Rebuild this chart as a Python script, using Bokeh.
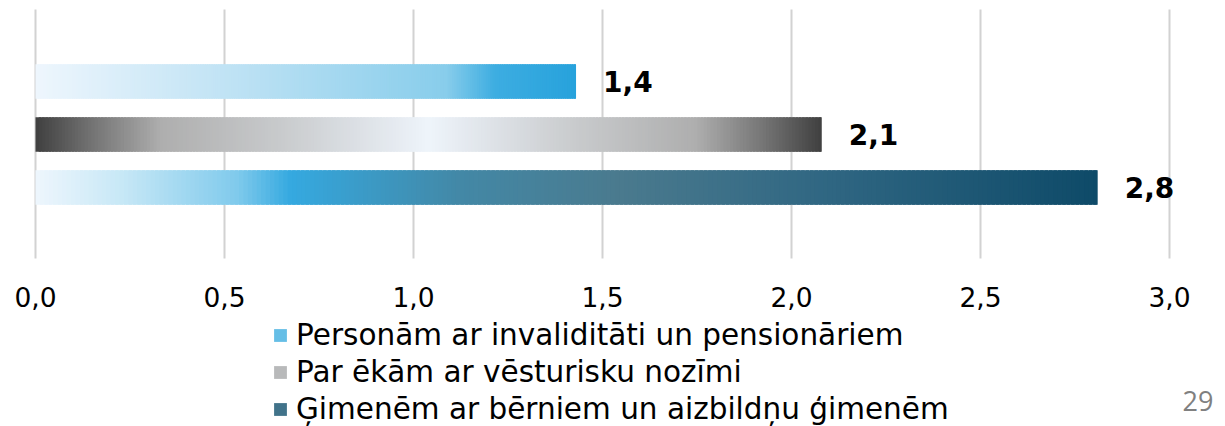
from bokeh.plotting import figure
from bokeh.models import Range1d, ColumnDataSource, Legend, LegendItem, Label
from bokeh.embed import file_html
from bokeh.resources import INLINE
from bokeh.core.properties import value

# ---------------- data ----------------
series = ["Personām ar invaliditāti un pensionāriem",
          "Par ēkām ar vēsturisku nozīmi",
          "Ģimenēm ar bērniem un aizbildņu ģimenēm"]
values = [1.43, 2.08, 2.81]
ticks = [0.0, 0.5, 1.0, 1.5, 2.0, 2.5, 3.0]
tick_labels = ["0,0", "0,5", "1,0", "1,5", "2,0", "2,5", "3,0"]
page_number = "29"

# ---------------- style ----------------
gradients = [
    [(0.0, "#EEF6FD"), (0.37, "#BEE2F4"), (0.76, "#88CDEB"), (0.85, "#3DADE1"), (1.0, "#27A2DC")],
    [(0.0, "#404040"), (0.07, "#727272"), (0.16, "#AEAEAE"), (0.31, "#C8CACC"), (0.5, "#EEF4FB"),
     (0.69, "#C8CACC"), (0.84, "#AEAEAE"), (0.93, "#727272"), (1.0, "#404040")],
    [(0.0, "#EEF6FD"), (0.08, "#C8E8F6"), (0.19, "#80CAEC"), (0.24, "#35A9E0"), (0.40, "#4388A6"),
     (0.55, "#4A7A8E"), (0.75, "#2F6682"), (1.0, "#0E4A68")],
]
legend_index_frac = [0.8, 0.22, 0.62]
N = 240
FONT = "DejaVu Sans"
W, H = 1225, 426
X0_PX, PX_PER_UNIT = 35.0, 378.0        # pixel of value 0, pixels per unit
YC_PX, PX_PER_ROW = 134.0, 53.0         # pixel of middle bar centre, pixels per bar row
BAR_H = 34.5 / PX_PER_ROW
GRID_TOP = (YC_PX - 9) / PX_PER_ROW
GRID_BOTTOM = (YC_PX - 258) / PX_PER_ROW
TICK_MID = (YC_PX - 296) / PX_PER_ROW


def hex2rgb(h):
    h = h.lstrip("#")
    return tuple(int(h[i:i + 2], 16) for i in (0, 2, 4))


def interp(stops, t):
    for (t0, c0), (t1, c1) in zip(stops[:-1], stops[1:]):
        if t0 <= t <= t1:
            f = 0 if t1 == t0 else (t - t0) / (t1 - t0)
            a, b = hex2rgb(c0), hex2rgb(c1)
            r = [round(a[i] + (b[i] - a[i]) * f) for i in range(3)]
            return "#%02x%02x%02x" % tuple(r)
    return stops[-1][1]


p = figure(width=W, height=H, output_backend="svg", toolbar_location=None,
           x_range=Range1d(-X0_PX / PX_PER_UNIT, (W - X0_PX) / PX_PER_UNIT),
           y_range=Range1d(-(H - YC_PX) / PX_PER_ROW, YC_PX / PX_PER_ROW),
           x_axis_location=None, y_axis_location=None,
           min_border_left=0, min_border_right=0, min_border_top=0, min_border_bottom=0)
p.outline_line_color = None
p.background_fill_color = "white"
p.border_fill_color = "white"
p.grid.grid_line_color = None

# vertical gridlines at the tick values
p.segment(x0=ticks, x1=ticks, y0=[GRID_BOTTOM] * len(ticks), y1=[GRID_TOP] * len(ticks),
          line_color="#D2D2D2", line_width=2)

# tick labels
p.text(x=ticks, y=[TICK_MID] * len(ticks), text=tick_labels, text_align="center",
       text_baseline="middle", text_font=value(FONT), text_font_size="26.5px",
       text_color="#000000")

# gradient bars, built as thin slices of each value
renderers = []
for k, (v, stops) in enumerate(zip(values, gradients)):
    y = 1 - k
    w = v / N
    lefts, rights, cols = [], [], []
    for i in range(N):
        lefts.append(i * w)
        rights.append(min((i + 1.8) * w, v))
        cols.append(interp(stops, (i + 0.5) / N))
    src = ColumnDataSource(dict(left=lefts, right=rights, color=cols,
                                top=[y + BAR_H / 2] * N, bottom=[y - BAR_H / 2] * N))
    r = p.quad(left="left", right="right", top="top", bottom="bottom", source=src,
               fill_color="color", line_color=None)
    renderers.append(r)

# value labels
label_src = ColumnDataSource(dict(x=values, y=[1 - k for k in range(len(values))],
                                  text=[f"{v:.1f}".replace(".", ",") for v in values]))
p.text(x="x", y="y", text="text", source=label_src, x_offset=27, y_offset=0,
       text_baseline="middle", text_align="left", text_font=value(FONT),
       text_font_style="bold", text_font_size="28px", text_color="#000000")

items = [LegendItem(label=s, renderers=[r], index=int(N * f))
         for s, r, f in zip(series, renderers, legend_index_frac)]
legend = Legend(items=items, location=(272, 0), orientation="vertical",
                border_line_color=None, background_fill_alpha=0, padding=0, margin=0,
                spacing=3, glyph_width=16, glyph_height=16, label_standoff=8,
                label_text_font=FONT, label_text_font_size="29.5px",
                label_text_color="#000000")
p.add_layout(legend, "center")

p.add_layout(Label(x=1182, y=26, x_units="screen", y_units="screen", text=page_number,
                   text_font="Open Sans", text_font_size="27px", text_color="#808080",
                   text_baseline="middle", text_align="left"))

open("out.html", "w").write(file_html(p, INLINE))
